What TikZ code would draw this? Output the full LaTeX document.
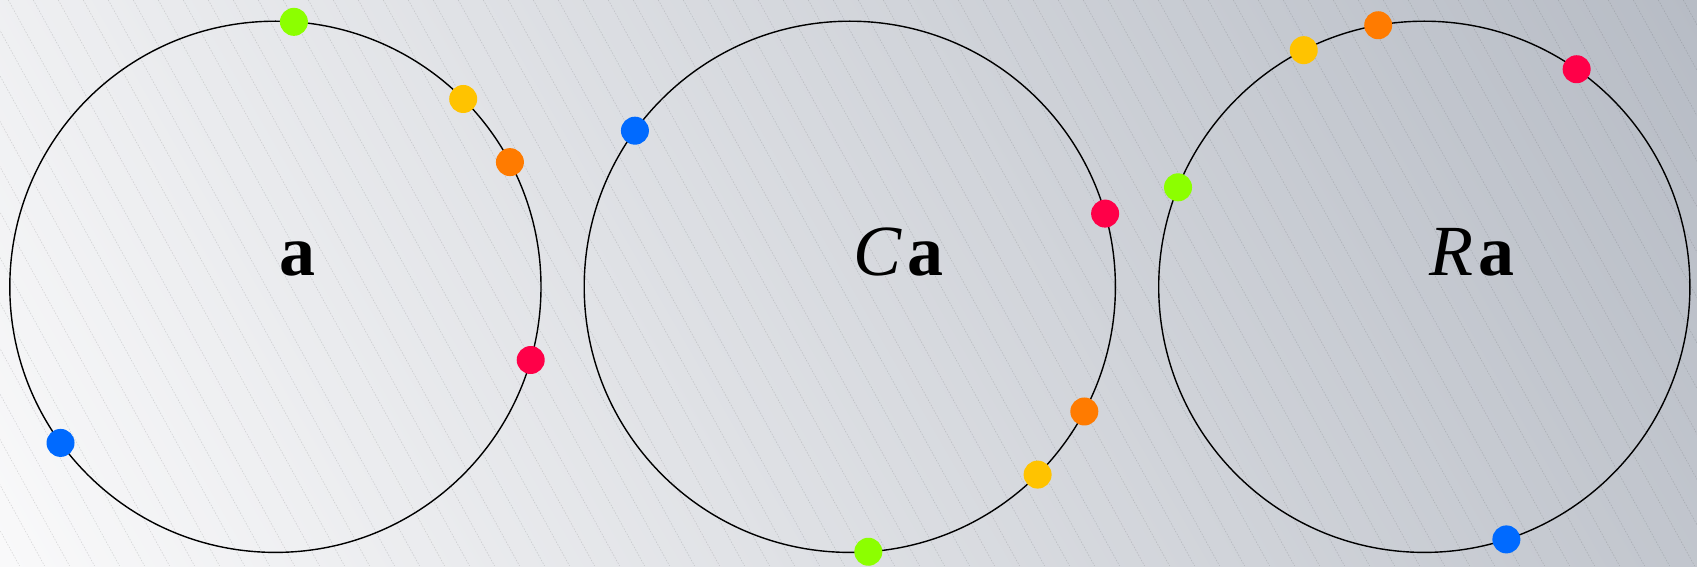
\documentclass[tikz,border=0pt]{standalone}
\usepackage{fontspec}
\setmainfont{Liberation Serif}
\definecolor{dgreen}{HTML}{8CFF00}
\definecolor{dyellow}{HTML}{FFC300}
\definecolor{dorange}{HTML}{FF7B00}
\definecolor{dred}{HTML}{FF0048}
\definecolor{dblue}{HTML}{006AFF}
\definecolor{bglight}{HTML}{F9F9FA}
\definecolor{bgdark}{HTML}{B7BCC5}
\tikzset{
  ring/.style={circle, draw=black, line width=1.4pt, minimum size=531.2pt, inner sep=0pt, outer sep=0pt},
  dot/.style={circle, fill=#1, draw=none, minimum size=28pt, inner sep=0pt, outer sep=0pt},
  lab/.style={anchor=base west, inner sep=0pt, outer sep=0pt, font=\fontsize{72}{80}\selectfont},
  stripe/.style={black, opacity=0.13, line width=0.6pt, dash pattern=on 1.5pt off 1.5pt}
}
\begin{document}
\begin{tikzpicture}[x=1pt,y=1pt]
\useasboundingbox (0,0) rectangle (1697,566);
\begin{scope}
  \clip (0,0) rectangle (1697,566);
  \shade[top color=bgdark, bottom color=bglight, shading angle=-60] (-27.8,-593.3) rectangle (1724.8,1159.3);
  \foreach \k in {-14,...,68}
    \draw[stripe] ({8.3+25*\k},566) -- ++(311.3,-566);
\end{scope}
% circles
\node[ring] (c1) at (275.4,279.2) {};
\node[ring] (c2) at (849.8,279.2) {};
\node[ring] (c3) at (1424.3,279.2) {};
% labels
\node[lab] (l1) at (279.2,291) {\textbf{a}};
\node[lab] (l2) at (853.5,291) {\textit{C}\kern5pt\textbf{a}};
\node[lab] (l3) at (1429.5,291) {\textit{R}\kern5pt\textbf{a}};
% dots on circle 1
\node[dot=dgreen]  (g1) at (c1.86) {};
\node[dot=dyellow] (y1) at (c1.45.9) {};
\node[dot=dorange] (o1) at (c1.28.7) {};
\node[dot=dred]    (r1) at (c1.-16.1) {};
\node[dot=dblue]   (b1) at (c1.-144.3) {};
% dots on circle 2 (conjugate)
\node[dot=dgreen]  (g2) at (c2.-86) {};
\node[dot=dyellow] (y2) at (c2.-45.9) {};
\node[dot=dorange] (o2) at (c2.-28.7) {};
\node[dot=dred]    (r2) at (c2.16.1) {};
\node[dot=dblue]   (b2) at (c2.144.3) {};
% dots on circle 3 (rotated by 72)
\node[dot=dgreen]  (g3) at (c3.158) {};
\node[dot=dyellow] (y3) at (c3.117.9) {};
\node[dot=dorange] (o3) at (c3.100.7) {};
\node[dot=dred]    (r3) at (c3.55.9) {};
\node[dot=dblue]   (b3) at (c3.-72.3) {};
\end{tikzpicture}
\end{document}
